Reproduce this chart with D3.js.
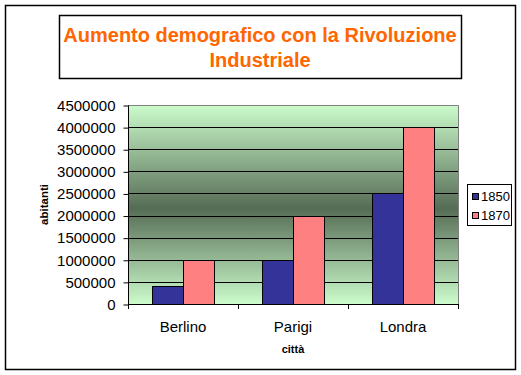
<!DOCTYPE html>
<html>
<head>
<meta charset="utf-8">
<script src="https://cdn.jsdelivr.net/npm/d3@7"></script>
<style>
  body { margin: 0; background: #fff; }
  text { font-family: Arial, "Liberation Sans", sans-serif; }
</style>
</head>
<body>
<svg width="521" height="375"></svg>
<script>
const cities = ["Berlino", "Parigi", "Londra"];
const years = ["1850", "1870"];
const pop1850 = [400000, 1000000, 2500000];
const pop1870 = [1000000, 2000000, 4000000];
const yTicks = [0, 500000, 1000000, 1500000, 2000000, 2500000, 3000000, 3500000, 4000000, 4500000];
const colors = ["#333399", "#FF8080"];

const svg = d3.select("svg");
const plot = { left: 128, right: 458, top: 105, bottom: 304 };

// outer frame + title box
svg.append("rect").attr("x", 5.5).attr("y", 5.5).attr("width", 510).attr("height", 364)
  .attr("fill", "#fff").attr("stroke", "#000").attr("stroke-width", 1.5);
svg.append("rect").attr("x", 59.5).attr("y", 15.5).attr("width", 402).attr("height", 63)
  .attr("fill", "#fff").attr("stroke", "#000").attr("stroke-width", 1.5);

const title = svg.append("text").attr("text-anchor", "middle")
  .attr("fill", "#FF6600").style("font-weight", "bold").style("font-size", "20px");
title.append("tspan").attr("x", 260).attr("y", 42).text("Aumento demografico con la Rivoluzione");
title.append("tspan").attr("x", 260).attr("y", 67).text("Industriale");

// scales
const x = d3.scaleBand().domain(cities).range([plot.left, plot.right]);
const xs = d3.scaleBand().domain(years).range([0, x.bandwidth()]).paddingInner(0).paddingOuter(0.75);
const y = d3.scaleLinear().domain([0, 4500000]).range([plot.bottom, plot.top]);

// background gradient
const grad = svg.append("defs").append("linearGradient").attr("id", "bg")
  .attr("gradientUnits", "userSpaceOnUse")
  .attr("x1", 0).attr("x2", 0).attr("y1", plot.top).attr("y2", plot.bottom);
grad.append("stop").attr("offset", "0%").attr("stop-color", "#ccfccc");
grad.append("stop").attr("offset", "52%").attr("stop-color", "#566c55");
grad.append("stop").attr("offset", "100%").attr("stop-color", "#ccfccc");

svg.append("rect").attr("x", plot.left).attr("y", plot.top)
  .attr("width", plot.right - plot.left).attr("height", plot.bottom - plot.top)
  .attr("fill", "url(#bg)");

// grid lines
svg.append("g").selectAll("line").data(yTicks.slice(1, -1)).join("line")
  .attr("x1", plot.left).attr("x2", plot.right)
  .attr("y1", d => Math.round(y(d)) + 0.5).attr("y2", d => Math.round(y(d)) + 0.5)
  .attr("stroke", "#000");

// plot border top/right (gray)
svg.append("path")
  .attr("d", `M${plot.left},${plot.top + 0.5}H${plot.right + 0.5}V${plot.bottom}`)
  .attr("fill", "none").attr("stroke", "#808080");

// bars
const series = [pop1850, pop1870];
series.forEach((vals, si) => {
  svg.append("g").selectAll("rect").data(cities).join("rect")
    .attr("x", (c) => Math.round(x(c) + xs(years[si])) + 0.5)
    .attr("width", Math.round(xs.bandwidth()))
    .attr("y", (c, i) => Math.round(y(vals[i])) + 0.5)
    .attr("height", (c, i) => Math.round(y(0)) - Math.round(y(vals[i])))
    .attr("fill", colors[si]).attr("stroke", "#000");
});

// y axis
const yAxis = svg.append("g").attr("transform", `translate(${plot.left + 0.5},0.5)`)
  .call(d3.axisLeft(y).tickValues(yTicks).tickSize(5).tickPadding(8).tickFormat(d3.format("d")));
yAxis.select(".domain").attr("d", `M0,${plot.top}V${plot.bottom}`).attr("stroke", "#000");
yAxis.selectAll("text").style("font-size", "15px").attr("fill", "#000");
yAxis.selectAll("line").attr("stroke", "#000");

// x axis
const xg = svg.append("g");
xg.append("line").attr("x1", plot.left).attr("x2", plot.right + 1)
  .attr("y1", plot.bottom + 0.5).attr("y2", plot.bottom + 0.5).attr("stroke", "#000");
const edges = cities.map(c => x(c)).concat([x.range()[1]]);
xg.selectAll("line.tk").data(edges).join("line").attr("class", "tk")
  .attr("x1", d => Math.round(d) + 0.5).attr("x2", d => Math.round(d) + 0.5)
  .attr("y1", plot.bottom).attr("y2", plot.bottom + 5).attr("stroke", "#000");
xg.selectAll("text").data(cities).join("text")
  .attr("x", d => x(d) + x.bandwidth() / 2).attr("y", 332)
  .attr("text-anchor", "middle").style("font-size", "15px").text(d => d);

// axis titles
svg.append("text").attr("x", (plot.left + plot.right) / 2).attr("y", 353)
  .attr("text-anchor", "middle").style("font-weight", "bold").style("font-size", "11px").text("città");
svg.append("text").attr("transform", `translate(48,${(plot.top + plot.bottom) / 2}) rotate(-90)`)
  .attr("text-anchor", "middle").style("font-weight", "bold").style("font-size", "11.5px").text("abitanti");

// legend
const lg = svg.append("g");
lg.append("rect").attr("x", 467.5).attr("y", 184.5).attr("width", 44).attr("height", 41)
  .attr("fill", "#fff").attr("stroke", "#000");
years.forEach((yr, i) => {
  lg.append("rect").attr("x", 472.5).attr("y", 193.5 + i * 19).attr("width", 6).attr("height", 6)
    .attr("fill", colors[i]).attr("stroke", "#000");
  lg.append("text").attr("x", 481).attr("y", 201 + i * 19).style("font-size", "13px").text(yr);
});
</script>
</body>
</html>
